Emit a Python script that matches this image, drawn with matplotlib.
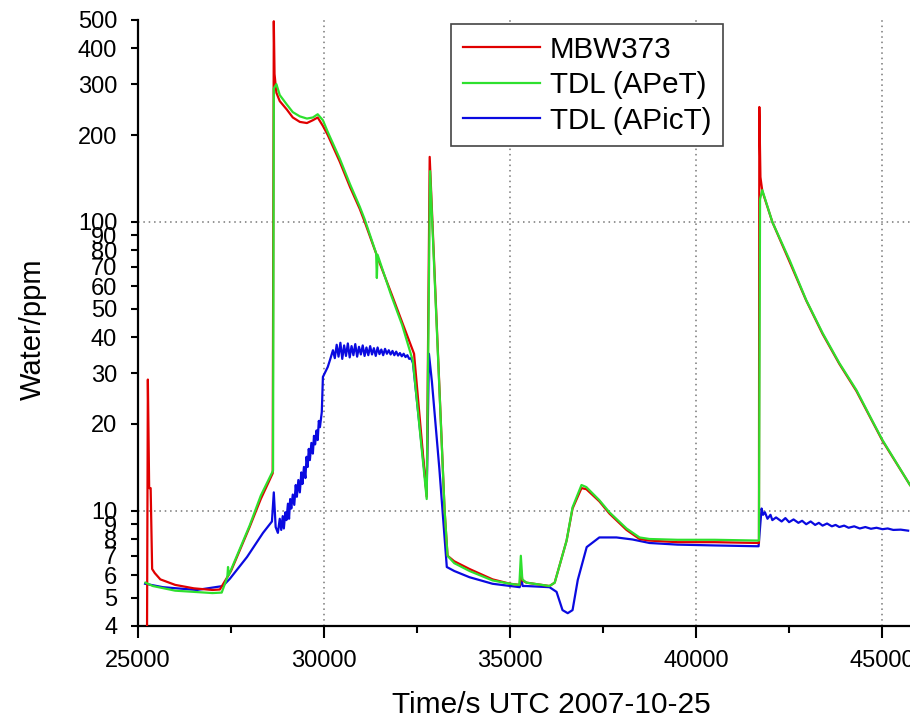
import matplotlib
matplotlib.use("Agg")
import matplotlib.pyplot as plt
from matplotlib.ticker import FixedLocator, NullFormatter

plt.rcParams["font.family"] = ["Liberation Sans", "DejaVu Sans"]

# MBW373 (frost point hygrometer)
red_t = [25240, 25265, 25300, 25340, 25380, 25450, 25600, 26000, 26500, 27000, 27200,
         27500, 28000, 28300, 28620, 28650, 28670, 28720, 28810, 29000, 29160, 29350,
         29540, 29700, 29830, 29970, 30100, 30420, 30700, 30960, 31095, 31445, 31800,
         32100, 32420, 32760, 32840, 33240, 33320, 33500, 33910, 34530, 35000, 35260,
         35290, 35330, 35440, 36060, 36200, 36520, 36680, 36920, 37050, 37400, 37670,
         38130, 38480, 38750, 39500, 40500, 41690, 41700, 41730, 41780, 42050, 42510,
         42960, 43400, 43850, 44310, 44730, 45010, 45750]
red_v = [3.0, 28.5, 12.0, 12.0, 6.3, 6.1, 5.8, 5.55, 5.4, 5.33, 5.35,
         6.2, 8.8, 11.0, 13.5, 495, 325, 280, 262, 245, 230, 222,
         220, 225, 230, 215, 200, 162, 132, 111, 100, 75, 57,
         45, 35, 11.2, 168, 10.1, 7.0, 6.7, 6.3, 5.8, 5.6, 5.55,
         6.3, 5.75, 5.65, 5.5, 5.65, 7.9, 10.2, 12.0, 11.9, 10.8, 9.8,
         8.6, 8.0, 7.9, 7.8, 7.8, 7.75, 250, 143, 128, 100, 73,
         53.5, 41, 32.3, 26, 20.5, 17.5, 12.3]

# TDL (APeT)
green_t = [25200, 25400, 26000, 26500, 27000, 27250, 27400, 27420, 27440, 28000, 28300,
           28630, 28650, 28720, 28810, 29000, 29160, 29350, 29540, 29700, 29830, 29970,
           30100, 30420, 30700, 30960, 31095, 31400, 31420, 31440, 31800, 32100, 32390,
           32760, 32850, 33240, 33320, 33500, 33910, 34530, 35000, 35250, 35290, 35330,
           35440, 36060, 36200, 36520, 36680, 36920, 37050, 37400, 37670, 38130, 38480,
           38750, 39500, 40500, 41690, 41720, 41780, 42050, 42510, 42960, 43400, 43850,
           44310, 44730, 45010, 45750]
green_v = [5.65, 5.5, 5.3, 5.25, 5.2, 5.22, 5.9, 6.4, 6.0, 8.9, 11.3,
           13.8, 290, 300, 275, 255, 240, 232, 228, 230, 236, 225,
           205, 166, 135, 113, 102, 78, 64, 77, 56, 44, 33,
           11, 150, 10.1, 7.0, 6.6, 6.2, 5.75, 5.6, 5.55, 7.0, 5.8,
           5.65, 5.5, 5.65, 7.9, 10.3, 12.3, 12.1, 10.9, 9.9, 8.7, 8.1,
           8.0, 7.95, 7.95, 7.9, 120, 129, 100, 74, 53.7, 41.3, 32.5,
           26.2, 20.6, 17.6, 12.3]

# TDL (APicT)
blue_t = [25190, 25670, 26580, 27280, 27470, 27930, 28360, 28600, 28650, 28700, 28760,
          28810, 28850, 28890, 28920, 28960, 28990, 29030, 29060, 29090, 29120, 29160,
          29200, 29240, 29270, 29310, 29350, 29390, 29420, 29460, 29500, 29530, 29560,
          29590, 29620, 29660, 29700, 29730, 29760, 29800, 29830, 29860, 29890, 29940,
          29970, 30020, 30100, 30160, 30240,
          30290, 30340, 30390, 30440, 30490, 30540, 30590, 30640, 30690, 30740, 30790,
          30840, 30890, 30940, 30990, 31040, 31090, 31140, 31190, 31240, 31290, 31340,
          31390, 31440, 31490, 31540, 31590, 31640, 31690, 31740, 31790, 31840, 31890,
          31940, 31990, 32040, 32090, 32140, 32190, 32240, 32290, 32340, 32390,
          32600, 32760, 32820, 32900, 33100, 33300, 33500, 33910, 34530, 35260, 35300,
          35340, 35440, 36060, 36250, 36410, 36550, 36680, 36820, 37060, 37400, 37860,
          38290, 38750, 39500, 40500, 41680, 41760, 41800, 41850, 41920, 42000, 42050,
          42150, 42300, 42400, 42500, 42620, 42750, 42850, 42960, 43080, 43200, 43300,
          43400, 43520, 43650, 43750, 43850, 43980, 44100, 44250, 44400, 44550, 44700,
          44850, 45010, 45150, 45300, 45500, 45700]
blue_v = [5.6, 5.45, 5.33, 5.5, 5.83, 6.93, 8.4, 9.2, 11.6, 8.8, 8.4,
          9.4, 8.6, 9.6, 8.7, 9.9, 9.3, 10.6, 9.4, 11.0, 10.2, 11.4,
          10.5, 12.3, 11.2, 12.8, 11.6, 13.6, 12.4, 14.2, 13.0, 15.4, 14.2,
          16.4, 15.0, 17.2, 15.8, 18.2, 17.0, 19.0, 17.6, 20.5, 19.5, 22.0,
          29.1, 30.0, 31.5, 33.3, 36.0,
          33.8, 37.6, 34.2, 38.2, 33.6, 37.4, 34.4, 38.0, 34.0, 37.2, 34.6,
          37.8, 34.2, 37.0, 34.8, 37.4, 34.4, 36.8, 34.6, 37.2, 34.8, 36.6,
          34.4, 36.8, 34.9, 36.2, 34.6, 36.4, 35.0, 36.0, 34.8, 35.8, 34.6,
          35.6, 34.5, 35.2, 34.3, 35.0, 34.1, 34.6, 33.6, 33.8, 32.5,
          18.0, 11.5, 35.0, 28.0, 14.0, 6.4, 6.2, 5.9, 5.6, 5.45, 5.85,
          5.5, 5.5, 5.45, 5.25, 4.54, 4.43, 4.54, 5.77, 7.5, 8.1, 8.1,
          7.97, 7.75, 7.65, 7.6, 7.55, 10.2, 9.7, 9.9, 9.4, 9.7, 9.3,
          9.5, 9.2, 9.45, 9.15, 9.35, 9.1, 9.25, 9.0, 9.2, 8.95, 9.1,
          8.9, 9.05, 8.85, 8.95, 8.8, 8.9, 8.75, 8.85, 8.7, 8.8, 8.68,
          8.75, 8.65, 8.7, 8.6, 8.62, 8.55]

y_ticks = [4, 5, 6, 7, 8, 9, 10, 20, 30, 40, 50, 60, 70, 80, 90, 100, 200, 300, 400, 500]

fig = plt.figure(figsize=(9.10, 7.19), dpi=100)
ax = fig.add_axes([138 / 910, 1 - 626 / 719, (910 - 138) / 910, (626 - 20) / 719])

ax.plot(red_t, red_v, color="#e00000", lw=1.6, label="MBW373", zorder=3)
ax.plot(green_t, green_v, color="#2ee02e", lw=1.6, label="TDL (APeT)", zorder=4)
ax.plot(blue_t, blue_v, color="#0a0ae0", lw=1.6, label="TDL (APicT)", zorder=2)

ax.set_yscale("log")
ax.set_ylim(4, 500)
ax.set_xlim(25000, 45750)

ax.yaxis.set_major_locator(FixedLocator(y_ticks))
ax.yaxis.set_major_formatter(plt.FuncFormatter(lambda v, p: f"{v:g}"))
ax.yaxis.set_minor_formatter(NullFormatter())
ax.yaxis.set_minor_locator(FixedLocator([]))
ax.set_xticks([25000, 30000, 35000, 40000, 45000])
ax.set_xticks([27500, 32500, 37500, 42500], minor=True)

ax.tick_params(axis="y", which="major", direction="out", length=5, width=1.5,
               labelsize=17, pad=10)
ax.tick_params(axis="x", which="major", direction="out", length=8.6, width=1.5,
               labelsize=17, pad=9)
ax.tick_params(axis="x", which="minor", direction="out", length=5, width=1.5)

for s in ["top", "right"]:
    ax.spines[s].set_visible(False)
for s in ["left", "bottom"]:
    ax.spines[s].set_linewidth(1.6)

# dotted grid
for gx in [30000, 35000, 40000, 45000]:
    ax.axvline(gx, color="#777777", ls=(0, (1, 2.5)), lw=1.1, zorder=1)
for gy in [10, 100]:
    ax.axhline(gy, color="#777777", ls=(0, (1, 2.5)), lw=1.1, zorder=1)

ax.set_xlabel("Time/s UTC 2007-10-25", fontsize=21.5)
ax.xaxis.set_label_coords((551 - 138) / 772, -0.108)
ax.set_ylabel("Water/ppm", fontsize=21)
ax.yaxis.set_label_coords(-0.118, 0.49)

leg = ax.legend(loc="upper left", bbox_to_anchor=(451 / 910, 1 - 24 / 719),
                bbox_transform=fig.transFigure, borderaxespad=0, fontsize=21.3,
                fancybox=False, edgecolor="#444444", framealpha=1,
                handlelength=2.6, handletextpad=0.34, labelspacing=0.25,
                borderpad=0.4)
leg.get_frame().set_linewidth(1.2)

fig.savefig("out.png", dpi=100)
